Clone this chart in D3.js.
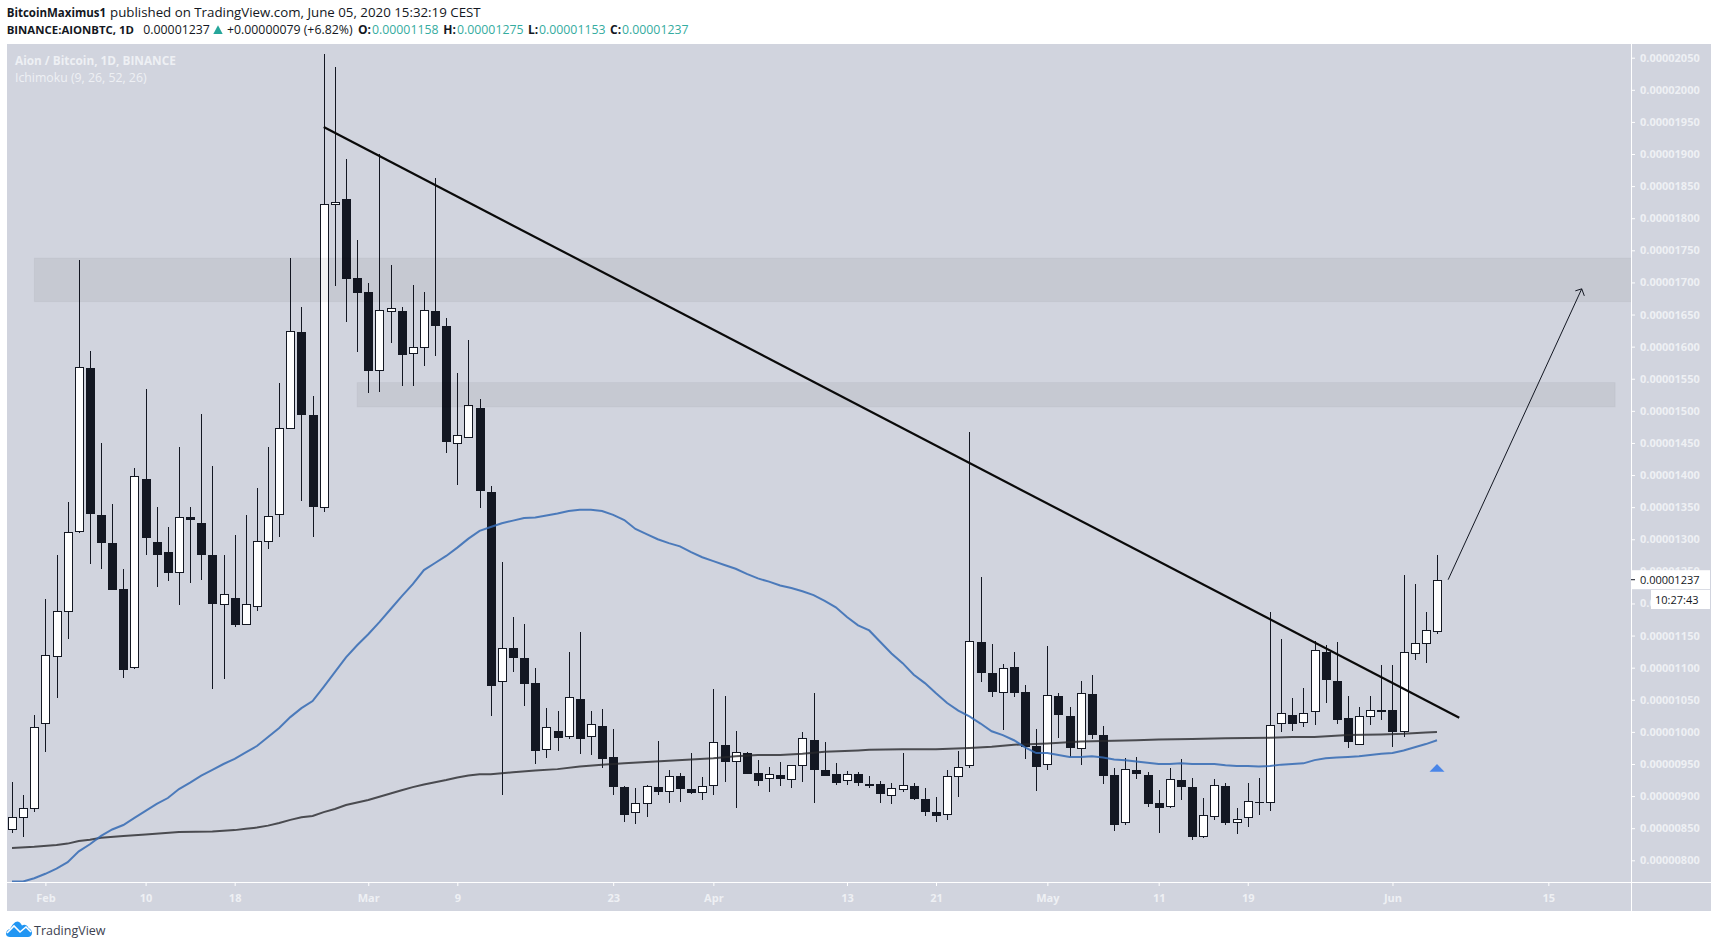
<html>

<head>
    <meta charset="utf-8">
    <script src="https://d3js.org/d3.v7.min.js"></script>
    <style>
        body { margin: 0; background: #fff; }
        svg { display: block; font-family: "Open Sans", sans-serif; }
    </style>
</head>

<body>
    <div id="chart">
        <svg width="1718" height="948"></svg>
    </div>
    <script>
        // prices are in 1e-8 BTC (satoshi), one entry per day from 29 Jan to 5 Jun 2020
        var firstDay = Date.UTC(2020, 0, 29)

        var opens = [848, 867, 881,
            1013, 1119, 1189, 1312, 1568, 1339, 1296, 1224, 1101, 1396, 1297, 1282, 1249, 1336, 1327, 1277, 1199, 1210, 1168, 1197, 1298, 1340, 1473, 1624, 1495, 1350, 1822, 1831, 1708,
            1687, 1563, 1655, 1657, 1591, 1600, 1657, 1634, 1449, 1459, 1506, 1375, 1079, 1132, 1117, 1078, 973, 1003, 993, 1053, 993, 1011, 962, 916, 875, 889, 916, 909, 933, 913, 906,
            917, 981, 954, 969, 938, 928, 934, 926, 948, 989, 942, 936, 925, 936, 921, 920, 901, 911, 918, 897, 877, 873, 932, 948, 1141, 1093, 1062, 1102, 1064, 979,
            950, 1057, 1027, 974, 1060, 996, 935, 859, 942, 935, 891, 884, 927, 915, 837, 870, 918, 859, 867, 892, 890, 1013, 1028, 1016, 1032, 1126, 1081, 1023, 981, 1024, 1036,
            1036, 1001, 1122, 1138, 1158
        ]
        var closes = [867, 881, 1007,
            1119, 1189, 1312, 1568, 1340, 1296, 1223, 1098, 1398, 1304, 1277, 1249, 1334, 1332, 1277, 1201, 1214, 1168, 1199, 1298, 1337, 1474, 1624, 1494, 1351, 1822, 1825, 1707, 1684,
            1564, 1657, 1660, 1589, 1600, 1657, 1633, 1453, 1462, 1509, 1376, 1073, 1130, 1116, 1077, 972, 1007, 992, 1054, 991, 1012, 960, 915, 873, 889, 915, 908, 932, 912, 907, 915,
            984, 954, 968, 936, 926, 934, 927, 948, 990, 943, 933, 922, 934, 922, 918, 904, 912, 917, 897, 876, 871, 932, 946, 1141, 1092, 1063, 1099, 1061, 979, 947,
            1057, 1027, 977, 1060, 996, 932, 857, 942, 936, 890, 883, 926, 916, 837, 870, 918, 860, 864, 892, 891, 1010, 1029, 1014, 1030, 1127, 1083, 1021, 985, 1024, 1034, 1033,
            1002, 1124, 1138, 1158, 1237
        ]
        var highs = [922, 902, 1026,
            1207, 1275, 1358, 1735, 1593, 1450, 1355, 1254, 1411, 1534, 1350, 1319, 1444, 1350, 1495, 1414, 1275, 1307, 1338, 1380, 1444, 1543, 1738, 1662, 1523, 2056, 2035, 1892, 1766,
            1699, 1900, 1727, 1662, 1696, 1685, 1863, 1645, 1559, 1610, 1518, 1383, 1265, 1179, 1168, 1099, 1037, 1033, 1124, 1156, 1033, 1036, 1004, 916, 913, 917, 986, 941, 936, 967, 930,
            1067, 1056, 1001, 969, 956, 945, 953, 949, 1000, 1061, 984, 952, 939, 938, 931, 923, 921, 967, 920, 913, 899, 941, 970, 1467, 1241, 1137, 1106, 1125, 1073, 1004,
            1134, 1060, 1038, 1079, 1089, 1009, 943, 959, 961, 937, 909, 943, 957, 928, 897, 927, 920, 881, 920, 928, 1187, 1145, 1053, 1068, 1141, 1135, 1140, 1056, 1039, 1056, 1104,
            1104, 1244, 1230, 1187, 1275
        ]
        var lows = [843, 837, 876,
            968, 1052, 1144, 1309, 1262, 1254, 1222, 1084, 1098, 1276, 1225, 1235, 1197, 1232, 1237, 1067, 1083, 1164, 1167, 1189, 1285, 1304, 1472, 1360, 1304, 1343, 1695, 1639, 1591,
            1528, 1530, 1605, 1539, 1539, 1570, 1586, 1435, 1385, 1457, 1349, 1024, 901, 1094, 1041, 950, 960, 971, 989, 966, 964, 944, 901, 859, 857, 868, 902, 890, 891, 904, 894,
            901, 922, 882, 936, 916, 907, 915, 913, 922, 890, 932, 918, 918, 915, 913, 890, 888, 907, 894, 869, 860, 863, 899, 944, 1078, 1055, 1003, 1055, 958, 908,
            941, 991, 961, 949, 989, 919, 846, 855, 926, 883, 843, 882, 894, 831, 834, 862, 855, 841, 852, 871, 877, 1000, 1002, 1007, 1011, 1045, 1013, 975, 980, 1010, 1019,
            977, 992, 1112, 1108, 1153
        ]
        var blueLine = [767, 767, 772,
            779, 787, 797, 814, 825, 838, 848, 855, 866, 877, 888, 897, 911, 921, 932, 941, 950, 958, 968, 978, 992, 1006, 1023, 1037, 1048, 1070, 1093, 1116, 1135,
            1152, 1171, 1191, 1211, 1230, 1252, 1263, 1274, 1287, 1301, 1313, 1319, 1325, 1329, 1333, 1334, 1337, 1340, 1344, 1346, 1346, 1344, 1338, 1330, 1316, 1308, 1300, 1294, 1289, 1280, 1272,
            1266, 1260, 1254, 1246, 1239, 1234, 1228, 1224, 1219, 1213, 1204, 1194, 1179, 1166, 1158, 1140, 1122, 1107, 1089, 1076, 1060, 1045, 1033, 1024, 1013, 1001, 995, 987, 976, 967,
            967, 964, 961, 961, 962, 960, 957, 956, 954, 952, 950, 950, 951, 950, 950, 950, 948, 947, 947, 946, 947, 949, 950, 951, 956, 959, 960, 961, 962, 964, 966,
            967, 971, 976, 981, 987
        ]
        var greyDays = [0, 2, 4, 5, 6, 7, 8, 10, 12, 15, 18, 20, 21, 22, 23, 24, 25, 26, 27, 28, 29, 30, 31, 32, 33, 34, 35, 36, 37, 39, 40, 41, 42, 43, 45, 47, 49, 51, 53, 55, 57, 59, 61, 63, 65, 67, 69, 71, 73, 76, 77, 80, 83, 86, 88, 90, 93, 96, 99, 101, 103, 106, 109, 113, 115, 117, 120, 123, 125, 127, 128]
        var greyLine = [819, 821, 824, 826, 830, 832, 835, 838, 840, 844, 845, 847, 849, 851, 854, 858, 863, 867, 869, 875, 880, 886, 890, 894, 899, 904, 909, 914, 918, 925, 929, 932, 934, 934, 937, 940, 942, 946, 949, 951, 953, 955, 957, 959, 962, 964, 964, 966, 969, 971, 972, 973, 973, 975, 977, 980, 982, 985, 986, 987, 988, 989, 990, 991, 992, 992, 995, 996, 997, 999, 1000]

        var priceTicks = [800, 850, 900, 950, 1000, 1050, 1100, 1150, 1200, 1250, 1300, 1350, 1400, 1450, 1500, 1550, 1600, 1650, 1700, 1750, 1800, 1850, 1900, 1950, 2000, 2050]
        var dateTicks = [Date.UTC(2020, 1, 1), Date.UTC(2020, 1, 10), Date.UTC(2020, 1, 18), Date.UTC(2020, 2, 1), Date.UTC(2020, 2, 9), Date.UTC(2020, 2, 23), Date.UTC(2020, 3, 1), Date.UTC(2020, 3, 13), Date.UTC(2020, 3, 21), Date.UTC(2020, 4, 1), Date.UTC(2020, 4, 11), Date.UTC(2020, 4, 19), Date.UTC(2020, 5, 1), Date.UTC(2020, 5, 15)]
        var dateLabels = ["Feb", "10", "18", "Mar", "9", "23", "Apr", "13", "21", "May", "11", "19", "Jun", "15"]

        // drawn on top of the chart: [day number, price]
        var trendLine = [[28, 1942], [130, 1022]]
        var arrowLine = [[129, 1237], [141, 1690]]
        var upperZone = { from: 2, to: 170, top: 1738, bottom: 1670 }
        var lowerZone = { from: 31, to: 144, top: 1544, bottom: 1506 }
        var lastPrice = 1237
        var triangle = [128, 938]

        var paneLeft = 7, paneRight = 1711, paneTop = 44, paneBottom = 911
        var axisX = 1631, axisY = 882

        var dark = "#131722"

        var svg = d3.select("#chart svg")

        function dayDate(i) {
            return firstDay + i * 86400000
        }

        var xScale = d3.scaleUtc()
            .domain([dayDate(0), dayDate(128)])
            .range([12, 1437])

        var yScale = d3.scaleLinear()
            .domain([800, 2050])
            .range([860.3, 57.7])

        function dayX(i) {
            return xScale(dayDate(i))
        }

        // pane background
        svg.append("rect")
            .attr("x", paneLeft).attr("y", paneTop)
            .attr("width", paneRight - paneLeft).attr("height", paneBottom - paneTop)
            .style("fill", "#d1d4de")

        svg.append("clipPath").attr("id", "plot")
            .append("rect")
            .attr("x", paneLeft).attr("y", paneTop)
            .attr("width", axisX - paneLeft).attr("height", axisY - paneTop)

        var plot = svg.append("g").attr("clip-path", "url(#plot)")

        // candles
        var candles = plot.selectAll(".candle")
            .data(opens)
            .enter()
            .append("g")
            .attr("class", "candle")
            .style("shape-rendering", "crispEdges")

        candles.append("line")
            .attr("x1", function(d, i) { return Math.round(dayX(i)) + 0.5 })
            .attr("x2", function(d, i) { return Math.round(dayX(i)) + 0.5 })
            .attr("y1", function(d, i) { return yScale(highs[i]) })
            .attr("y2", function(d, i) { return yScale(lows[i]) })
            .style("stroke", dark)
            .style("stroke-width", 1)

        candles.append("rect")
            .attr("x", function(d, i) { return Math.round(dayX(i)) - (closes[i] >= d ? 3.5 : 4) })
            .attr("width", function(d, i) { return closes[i] >= d ? 8 : 9 })
            .attr("y", function(d, i) { return Math.round(yScale(Math.max(d, closes[i]))) + 0.5 })
            .attr("height", function(d, i) { return Math.max(1, Math.round(Math.abs(yScale(d) - yScale(closes[i])))) })
            .style("fill", function(d, i) { return closes[i] >= d ? "#fff" : dark })
            .style("stroke", dark)
            .style("stroke-width", function(d, i) { return closes[i] >= d ? 1 : 0 })

        // grey price zones
        var zones = [upperZone, lowerZone]
        plot.selectAll(".zone")
            .data(zones)
            .enter()
            .append("rect")
            .attr("class", "zone")
            .attr("x", function(d) { return dayX(d.from) })
            .attr("width", function(d) { return dayX(d.to) - dayX(d.from) })
            .attr("y", function(d) { return yScale(d.top) })
            .attr("height", function(d) { return yScale(d.bottom) - yScale(d.top) })
            .style("fill", "rgba(0,0,0,0.05)")
            .style("stroke", "rgba(0,0,0,0.03)")

        // moving averages
        var lineGen = d3.line()
            .x(function(d) { return dayX(d[0]) })
            .y(function(d) { return yScale(d[1]) })

        plot.append("path")
            .attr("d", lineGen(greyLine.map(function(v, i) { return [greyDays[i], v] })))
            .style("fill", "none")
            .style("stroke", "rgba(40,40,44,0.8)")
            .style("stroke-width", 2)

        plot.append("path")
            .attr("d", lineGen(blueLine.map(function(v, i) { return [i, v] })))
            .style("fill", "none")
            .style("stroke", "rgba(52,106,180,0.85)")
            .style("stroke-width", 2)

        // trend line and arrow
        plot.append("path")
            .attr("d", lineGen(trendLine))
            .style("fill", "none")
            .style("stroke", "#0a0a0a")
            .style("stroke-width", 2.2)

        plot.append("path")
            .attr("d", lineGen(arrowLine))
            .style("fill", "none")
            .style("stroke", dark)
            .style("stroke-width", 1)

        var tipX = dayX(arrowLine[1][0]), tipY = yScale(arrowLine[1][1])
        plot.append("path")
            .attr("d", "M" + (tipX - 6.4) + "," + (tipY + 2) + "L" + tipX + "," + tipY + "L" + (tipX + 2.6) + "," + (tipY + 7))
            .style("fill", "none")
            .style("stroke", dark)
            .style("stroke-width", 1)

        // blue marker under the last candle
        var triX = dayX(triangle[0]), triY = yScale(triangle[1])
        plot.append("path")
            .attr("d", "M" + (triX - 7.5) + "," + triY + "L" + triX + "," + (triY - 7.7) + "L" + (triX + 7.5) + "," + triY + "Z")
            .style("fill", "#4a86e8")

        // axes
        var yAxis = d3.axisRight(yScale)
            .tickValues(priceTicks)
            .tickSize(4)
            .tickPadding(5)
            .tickFormat(function(d) { return (d / 1e8).toFixed(8) })

        var xAxis = d3.axisBottom(xScale)
            .tickValues(dateTicks)
            .tickSize(4)
            .tickPadding(8)
            .tickFormat(function(d, i) { return dateLabels[i] })

        var yGroup = svg.append("g")
            .attr("transform", "translate(" + axisX + ",0)")
            .call(yAxis)
        var xGroup = svg.append("g")
            .attr("transform", "translate(0," + axisY + ")")
            .call(xAxis)

        yGroup.select(".domain").remove()
        xGroup.select(".domain").remove()
        svg.selectAll(".tick line").style("stroke", "#fff")
        svg.selectAll(".tick text")
            .style("fill", "#eef0f4")
            .style("font-family", "'Open Sans', sans-serif")
            .style("font-size", "11px")
            .style("font-weight", "700")

        svg.append("line")
            .attr("x1", axisX + 0.5).attr("x2", axisX + 0.5)
            .attr("y1", paneTop).attr("y2", paneBottom)
            .style("stroke", "#fff")
        svg.append("line")
            .attr("x1", paneLeft).attr("x2", paneRight)
            .attr("y1", axisY + 0.5).attr("y2", axisY + 0.5)
            .style("stroke", "#fff")

        // current price and countdown
        var lastY = yScale(lastPrice)
        svg.append("rect")
            .attr("x", 1632).attr("y", lastY - 9.5)
            .attr("width", 78).attr("height", 19)
            .style("fill", "#fff")
        svg.append("line")
            .attr("x1", axisX).attr("x2", axisX + 4)
            .attr("y1", lastY).attr("y2", lastY)
            .style("stroke", dark)
        svg.append("text")
            .attr("x", 1640).attr("y", lastY + 4)
            .style("font-size", "11px")
            .style("fill", dark)
            .text((lastPrice / 1e8).toFixed(8))
        svg.append("rect")
            .attr("x", 1651).attr("y", 590)
            .attr("width", 59).attr("height", 19)
            .style("fill", "#fff")
        svg.append("text")
            .attr("x", 1655).attr("y", 604)
            .style("font-size", "11px")
            .style("fill", dark)
            .text("10:27:43")

        // watermark text
        svg.append("text")
            .attr("x", 15).attr("y", 65)
            .style("font-size", "11.8px")
            .style("font-weight", "700")
            .style("fill", "#eef0f4")
            .text("Aion / Bitcoin, 1D, BINANCE")
        svg.append("text")
            .attr("x", 15).attr("y", 82)
            .style("font-size", "12.3px")
            .style("fill", "#eef0f4")
            .text("Ichimoku (9, 26, 52, 26)")

        // header rows
        var teal = "#35aca0"
        var row1 = svg.append("text").attr("y", 17).style("fill", dark)
        row1.append("tspan").attr("x", 6.7).style("font-size", "11.5px").style("font-weight", "700").text("BitcoinMaximus1")
        row1.append("tspan").attr("x", 110).style("font-size", "13.3px").text("published on TradingView.com, June 05, 2020 15:32:19 CEST")

        var row2 = [
            [6.7, "BINANCE:AIONBTC, 1D", dark, 700, 11.4],
            [143.3, "0.00001237", dark, 400, 12.3],
            [227, "+0.00000079 (+6.82%)", dark, 400, 12.3],
            [358, "O:", dark, 700, 12],
            [372, "0.00001158", teal, 400, 12.3],
            [443.3, "H:", dark, 700, 12],
            [457, "0.00001275", teal, 400, 12.3],
            [528, "L:", dark, 700, 12],
            [539, "0.00001153", teal, 400, 12.3],
            [610, "C:", dark, 700, 12],
            [622, "0.00001237", teal, 400, 12.3]
        ]
        svg.selectAll(".head")
            .data(row2)
            .enter()
            .append("text")
            .attr("class", "head")
            .attr("x", function(d) { return d[0] })
            .attr("y", 34)
            .style("font-size", function(d) { return d[4] + "px" })
            .style("fill", function(d) { return d[2] })
            .style("font-weight", function(d) { return d[3] })
            .text(function(d) { return d[1] })

        // up triangle in the header
        svg.append("path")
            .attr("d", "M213.3,34L218,25.3L222.7,34Z")
            .style("fill", "#26a69a")

        // TradingView logo
        var logo = svg.append("g").attr("transform", "translate(6,921)")
        logo.append("path")
            .attr("d", "M0,13 C0,10 2,8.5 4,8 C6,4 9,0.5 11.5,0.5 C14,0.5 15,3 16,4.5 C18,3 21,3.5 22.5,7 C25,8 26,10.5 26,12 C26,14.5 24,16 22,16 L4,16 C2,16 0,15 0,13 Z")
            .style("fill", "#2196f3")
        logo.append("path")
            .attr("d", "M1,12 L8,5 L14,11 L20,6 L25,11")
            .style("fill", "none")
            .style("stroke", "#fff")
            .style("stroke-width", 1.6)
        svg.append("text")
            .attr("x", 34).attr("y", 935)
            .style("font-size", "12.5px")
            .style("fill", "#3c4250")
            .text("TradingView")
    </script>

</body>

</html>
